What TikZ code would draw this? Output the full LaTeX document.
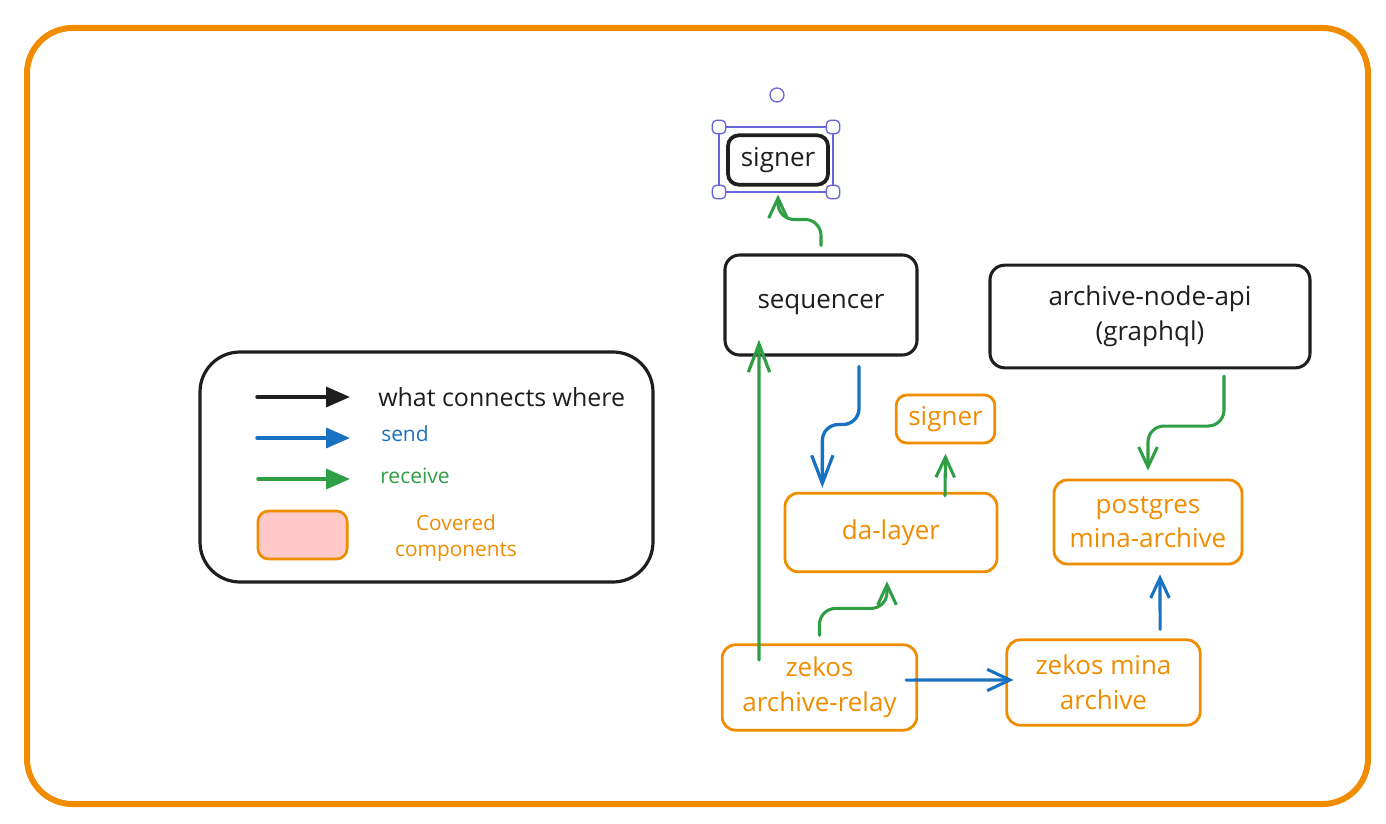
\documentclass[tikz,border=0pt]{standalone}
\usepackage{fontspec}
\setmainfont{Open Sans}
\usetikzlibrary{arrows.meta}
\definecolor{exorange}{HTML}{F08C00}
\definecolor{exblue}{HTML}{1971C2}
\definecolor{exgreen}{HTML}{2F9E44}
\definecolor{exblack}{HTML}{1E1E1E}
\definecolor{expurple}{HTML}{6965DB}
\definecolor{expink}{HTML}{FFC9C9}
\tikzset{
  blackbox/.style={draw=exblack, line width=2.3pt, rounded corners=11pt, text=exblack,
    font=\fontsize{19.5}{26}\selectfont, align=center, inner sep=0pt},
  orangebox/.style={draw=exorange, line width=2.1pt, rounded corners=10pt, text=exorange,
    font=\fontsize{19.5}{26}\selectfont, align=center, inner sep=0pt},
  conn/.style={line width=2.3pt, rounded corners=12pt, line cap=round, line join=round,
    -{Straight Barb[length=15pt,width=14pt,line width=2.3pt]}},
  bigconn/.style={line width=2.5pt, rounded corners=12pt, line cap=round, line join=round,
    -{Straight Barb[length=21pt,width=16pt,line width=2.4pt]}},
  gconn/.style={conn, draw=exgreen},
  bconn/.style={conn, draw=exblue},
  legarrow/.style={line width=2.6pt, line cap=round, -{Triangle[length=18pt,width=15pt]}},
  handle/.style={draw=expurple, fill=white, line width=1pt, rounded corners=3pt,
    minimum size=10pt, inner sep=0pt},
  legtext/.style={anchor=west, inner sep=0pt},
}
\begin{document}
\begin{tikzpicture}[x=0.75pt,y=-0.75pt]
\useasboundingbox (0,0) rectangle (1386,824);
% outer frame
\draw[exorange, line width=4.5pt, rounded corners=34pt] (27,28) rectangle (1368,804);

% legend
\draw[exblack, line width=2.4pt, rounded corners=30pt] (200,352) rectangle (653,582);
\coordinate (lb1) at (257,397); \coordinate (le1) at (350,397);
\coordinate (lb2) at (257,438); \coordinate (le2) at (350,438);
\coordinate (lb3) at (258,479); \coordinate (le3) at (350,479);
\draw[legarrow, exblack] (lb1) -- (le1);
\draw[legarrow, exblue] (lb2) -- (le2);
\draw[legarrow, exgreen] (lb3) -- (le3);
\node[legtext, text=exblack, font=\fontsize{18.7}{20}\selectfont] (lt1) at (378,397) {what connects where};
\node[legtext, text=exblue, font=\fontsize{15.7}{18}\selectfont] (lt2) at (381,434) {send};
\node[legtext, text=exgreen, font=\fontsize{15.8}{18}\selectfont] (lt3) at (380,476) {receive};
\node[draw=exorange, fill=expink, line width=2pt, rounded corners=8pt,
  minimum width=67pt, minimum height=36pt, inner sep=0pt] (pink) at (302.5,535) {};
\node[text=exorange, font=\fontsize{15.6}{20}\selectfont, align=center] (lt4) at (456,538) {Covered\\components};

% nodes
\node[blackbox, line width=2.8pt, minimum width=75pt, minimum height=37pt, rounded corners=8pt] (sig) at (778,160) {signer};
\node[blackbox, minimum width=144pt, minimum height=75pt] (seq) at (821,305) {sequencer};
\node[blackbox, minimum width=240pt, minimum height=77pt] (api) at (1150,316.5) {archive-node-api\\(graphql)};
\node[orangebox, minimum width=74pt, minimum height=36pt, rounded corners=8pt] (osig) at (945.5,419) {signer};
\node[orangebox, minimum width=159pt, minimum height=59pt] (da) at (891,532.5) {da-layer};
\node[orangebox, minimum width=141pt, minimum height=63pt] (pg) at (1148,522) {postgres\\mina-archive};
\node[orangebox, minimum width=146pt, minimum height=64pt] (zar) at (819.5,687.5) {zekos\\archive-relay};
\node[orangebox, minimum width=145pt, minimum height=64pt] (zma) at (1103.5,682.5) {zekos mina\\archive};

% selection overlay on top signer
\draw[expurple, line width=1pt] (719,127) rectangle (833,192);
\node[handle] (h1) at (719,127) {};
\node[handle] (h2) at (833,127) {};
\node[handle] (h3) at (719,192) {};
\node[handle] (h4) at (833,192) {};
\node[draw=expurple, line width=1pt, circle, minimum size=10.5pt, inner sep=0pt] (rot) at (777,95) {};

% connectors
\draw[gconn] ([yshift=6pt]seq.north) -- ++(0,-26) -| ([yshift=-6pt]sig.south);
\draw[bigconn, draw=exgreen] ([xshift=-45.4pt,yshift=20.6pt]zar.center) -- ([xshift=-46.5pt,yshift=-26pt]seq.center);
\draw[bigconn, draw=exblue] ([xshift=28.5pt,yshift=-7.5pt]seq.south) -- ++(0,58) -| ([xshift=-51.5pt,yshift=3pt]da.north);
\draw[gconn] ([xshift=40.5pt,yshift=-3pt]da.north) -- ([yshift=-7pt]osig.south);
\draw[gconn] ([yshift=6pt]zar.north) -- ++(0,-27) -| ([xshift=-3pt,yshift=-6pt]da.south);
\draw[bconn, -{Straight Barb[length=17pt,width=16pt,line width=2.3pt]}] ([xshift=-9pt,yshift=5.6pt]zar.east) -- ([xshift=6pt,yshift=1.9pt]zma.west);
\draw[bconn] ([xshift=42.4pt,yshift=6.75pt]zma.north) -- ([xshift=9pt,yshift=-6.75pt]pg.south);
\draw[gconn] ([xshift=55.5pt,yshift=-5pt]api.south) -- ++(0,50) -| ([yshift=6pt]pg.north);
\end{tikzpicture}
\end{document}
